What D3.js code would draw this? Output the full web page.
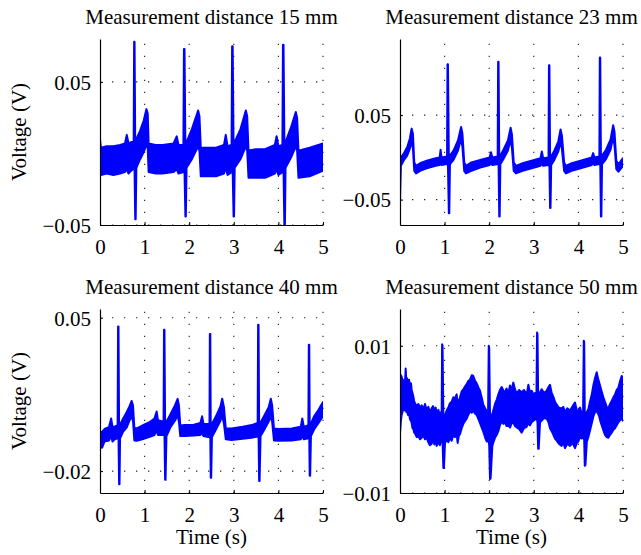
<!DOCTYPE html>
<html>
<head>
<meta charset="utf-8">
<script src="https://cdn.jsdelivr.net/npm/d3@7"></script>
<style>
  html, body { margin: 0; padding: 0; background: #fff; }
  svg { display: block; }
  text { font-family: "Liberation Serif", "Times New Roman", serif; fill: #000; }
</style>
</head>
<body>
<svg id="chart" width="641" height="555"></svg>
<script>
// Time axis ticks shared by all four recordings (seconds)
const timeTicks = [0, 1, 2, 3, 4, 5];

// Each trace row: [time (s), upper edge (V), lower edge (V)] of the noisy recording

// ---- 15 mm
const trace15 = [
  [0.00, 0.010, -0.012], [0.02, 0.004, -0.015], [0.15, 0.005, -0.014], [0.30, 0.005, -0.015],
  [0.45, 0.006, -0.014], [0.56, 0.007, -0.013], [0.60, 0.013, -0.011], [0.64, 0.007, -0.014],
  [0.70, 0.008, -0.012], [0.755, 0.008, -0.011], [0.765, 0.078, -0.011], [0.775, 0.078, -0.012],
  [0.790, 0.006, -0.046], [0.800, 0.006, -0.046], [0.815, 0.010, -0.010], [0.90, 0.016, -0.004],
  [0.98, 0.023, 0.001], [1.04, 0.031, 0.006], [1.07, 0.028, 0.004], [1.09, 0.007, -0.013],
  [1.25, 0.006, -0.014], [1.40, 0.006, -0.014], [1.65, 0.007, -0.013], [1.72, 0.012, -0.011],
  [1.76, 0.006, -0.014], [1.87, 0.006, -0.013], [1.882, 0.073, -0.012], [1.895, 0.073, -0.013],
  [1.915, 0.004, -0.044], [1.925, 0.004, -0.044], [1.94, 0.008, -0.010], [2.06, 0.017, -0.004],
  [2.20, 0.030, 0.005], [2.23, 0.026, 0.002], [2.26, 0.004, -0.016], [2.45, 0.004, -0.016],
  [2.60, 0.004, -0.016], [2.78, 0.006, -0.014], [2.82, 0.013, -0.010], [2.86, 0.005, -0.015],
  [2.95, 0.006, -0.013], [2.962, 0.075, -0.012], [2.975, 0.075, -0.013], [2.995, 0.004, -0.044],
  [3.005, 0.004, -0.044], [3.02, 0.008, -0.010], [3.15, 0.017, -0.004], [3.27, 0.030, 0.005],
  [3.30, 0.026, 0.002], [3.33, 0.002, -0.017], [3.50, 0.003, -0.017], [3.70, 0.003, -0.017],
  [3.92, 0.006, -0.014], [3.96, 0.012, -0.011], [4.00, 0.005, -0.015], [4.09, 0.006, -0.013],
  [4.102, 0.076, -0.012], [4.115, 0.076, -0.013], [4.135, 0.004, -0.053], [4.145, 0.004, -0.053],
  [4.16, 0.008, -0.010], [4.28, 0.018, -0.003], [4.39, 0.029, 0.005], [4.42, 0.025, 0.002],
  [4.45, 0.002, -0.017], [4.70, 0.004, -0.016], [5.00, 0.007, -0.012]
];

// ---- 23 mm
const trace23 = [
  [0.00, -0.046, -0.052], [0.02, 0.000, -0.010], [0.08, 0.004, -0.004], [0.16, 0.012, 0.002],
  [0.22, 0.022, 0.010], [0.26, 0.034, 0.020], [0.29, 0.028, 0.010], [0.32, -0.006, -0.016],
  [0.36, -0.010, -0.019], [0.45, -0.007, -0.016], [0.60, -0.004, -0.013], [0.80, -0.001, -0.010],
  [0.89, 0.000, -0.009], [0.91, 0.009, -0.006], [0.93, 0.000, -0.009], [1.055, 0.001, -0.008],
  [1.065, 0.110, -0.007], [1.075, 0.110, -0.008], [1.095, 0.002, -0.066], [1.105, 0.002, -0.066],
  [1.12, 0.002, -0.008], [1.20, 0.008, -0.003], [1.30, 0.020, 0.008], [1.37, 0.036, 0.022],
  [1.40, 0.028, 0.012], [1.44, -0.006, -0.016], [1.48, -0.010, -0.019], [1.60, -0.006, -0.016],
  [1.80, -0.003, -0.012], [2.01, 0.000, -0.009], [2.04, 0.006, -0.006], [2.07, 0.000, -0.009],
  [2.19, 0.001, -0.008], [2.200, 0.113, -0.007], [2.210, 0.113, -0.008], [2.225, 0.002, -0.070],
  [2.235, 0.002, -0.070], [2.25, 0.002, -0.008], [2.32, 0.009, -0.002], [2.42, 0.020, 0.008],
  [2.48, 0.035, 0.021], [2.51, 0.027, 0.011], [2.55, -0.006, -0.016], [2.60, -0.010, -0.019],
  [2.75, -0.007, -0.016], [2.95, -0.004, -0.013], [3.15, -0.001, -0.010], [3.18, 0.007, -0.007],
  [3.21, -0.001, -0.010], [3.33, 0.000, -0.009], [3.340, 0.109, -0.007], [3.350, 0.109, -0.008],
  [3.365, 0.001, -0.060], [3.375, 0.001, -0.060], [3.39, 0.001, -0.009], [3.46, 0.008, -0.003],
  [3.55, 0.019, 0.007], [3.60, 0.033, 0.019], [3.63, 0.026, 0.010], [3.68, -0.006, -0.016],
  [3.72, -0.010, -0.019], [3.85, -0.007, -0.016], [4.05, -0.004, -0.013], [4.30, 0.000, -0.009],
  [4.33, 0.005, -0.006], [4.36, 0.000, -0.009], [4.47, 0.001, -0.008], [4.480, 0.118, -0.006],
  [4.490, 0.118, -0.008], [4.505, 0.002, -0.070], [4.515, 0.002, -0.070], [4.53, 0.002, -0.008],
  [4.62, 0.009, -0.002], [4.72, 0.021, 0.009], [4.78, 0.038, 0.024], [4.81, 0.030, 0.014],
  [4.85, -0.004, -0.014], [4.90, -0.008, -0.017], [5.00, -0.001, -0.010]
];

// ---- 40 mm
const trace40 = [
  [0.00, -0.0025, -0.0095], [0.05, -0.0020, -0.0092], [0.10, -0.0008, -0.0065], [0.20, 0.0000, -0.0060],
  [0.25, 0.0040, -0.0040], [0.28, 0.0002, -0.0065], [0.33, 0.0003, -0.0055], [0.395, 0.0010, -0.0050],
  [0.405, 0.0460, -0.0040], [0.415, 0.0460, -0.0045], [0.428, 0.0000, -0.0260], [0.438, 0.0000, -0.0260],
  [0.45, 0.0012, -0.0050], [0.52, 0.0040, -0.0020], [0.60, 0.0070, 0.0000], [0.66, 0.0095, 0.0030],
  [0.71, 0.0120, 0.0050], [0.74, 0.0100, 0.0030], [0.77, -0.0002, -0.0060], [0.82, -0.0005, -0.0062],
  [0.95, 0.0008, -0.0055], [1.10, 0.0022, -0.0045], [1.22, 0.0040, -0.0035], [1.27, 0.0072, -0.0015],
  [1.30, 0.0032, -0.0035], [1.425, 0.0025, -0.0035], [1.435, 0.0445, -0.0025], [1.445, 0.0445, -0.0030],
  [1.460, 0.0015, -0.0240], [1.470, 0.0015, -0.0240], [1.49, 0.0025, -0.0040], [1.58, 0.0060, 0.0000],
  [1.68, 0.0100, 0.0030], [1.74, 0.0130, 0.0055], [1.77, 0.0100, 0.0025], [1.80, 0.0008, -0.0040],
  [1.90, 0.0010, -0.0040], [2.10, 0.0012, -0.0038], [2.25, 0.0020, -0.0035], [2.29, 0.0050, -0.0025],
  [2.32, 0.0015, -0.0040], [2.455, 0.0015, -0.0045], [2.463, 0.0426, -0.0040], [2.473, 0.0426, -0.0042],
  [2.483, 0.0005, -0.0230], [2.493, 0.0005, -0.0230], [2.51, 0.0015, -0.0045], [2.60, 0.0050, -0.0010],
  [2.70, 0.0095, 0.0030], [2.74, 0.0130, 0.0055], [2.78, 0.0090, 0.0015], [2.82, -0.0005, -0.0055],
  [2.95, -0.0006, -0.0058], [3.20, 0.0002, -0.0052], [3.40, 0.0010, -0.0048], [3.535, 0.0020, -0.0042],
  [3.545, 0.0468, -0.0030], [3.555, 0.0468, -0.0035], [3.568, 0.0012, -0.0245], [3.578, 0.0012, -0.0245],
  [3.60, 0.0022, -0.0040], [3.70, 0.0060, -0.0005], [3.78, 0.0090, 0.0025], [3.83, 0.0130, 0.0050],
  [3.86, 0.0100, 0.0025], [3.90, -0.0005, -0.0060], [4.00, -0.0008, -0.0062], [4.30, -0.0005, -0.0060],
  [4.50, 0.0002, -0.0055], [4.536, 0.0040, -0.0040], [4.57, 0.0002, -0.0055], [4.672, 0.0010, -0.0050],
  [4.682, 0.0377, -0.0040], [4.692, 0.0377, -0.0045], [4.702, 0.0002, -0.0221], [4.712, 0.0002, -0.0221],
  [4.73, 0.0018, -0.0040], [4.80, 0.0050, -0.0010], [4.90, 0.0080, 0.0020], [5.00, 0.0115, 0.0050]
];

// ---- 50 mm
const trace50 = [
  [0.000, 0.0054, -0.0019], [0.020, 0.0060, -0.0002], [0.037, 0.0058, 0.0006], [0.065, 0.0050, 0.0012],
  [0.097, 0.0054, 0.0015], [0.112, 0.0050, 0.0012], [0.127, 0.0069, 0.0013], [0.142, 0.0052, 0.0010],
  [0.157, 0.0056, 0.0011], [0.180, 0.0050, 0.0006], [0.202, 0.0054, 0.0008], [0.225, 0.0046, 0.0000],
  [0.247, 0.0049, -0.0002], [0.262, 0.0040, -0.0005], [0.280, 0.0036, -0.0012], [0.299, 0.0031, -0.0013],
  [0.318, 0.0025, -0.0018], [0.336, 0.0022, -0.0019], [0.375, 0.0018, -0.0024], [0.411, 0.0021, -0.0023],
  [0.450, 0.0016, -0.0027], [0.486, 0.0019, -0.0025], [0.525, 0.0014, -0.0022], [0.561, 0.0021, -0.0027],
  [0.600, 0.0012, -0.0025], [0.635, 0.0017, -0.0031], [0.670, 0.0010, -0.0035], [0.710, 0.0015, -0.0033],
  [0.740, 0.0018, -0.0028], [0.770, 0.0012, -0.0034], [0.800, 0.0016, -0.0030], [0.822, 0.0008, -0.0036],
  [0.860, 0.0013, -0.0031], [0.897, 0.0005, -0.0035], [0.920, 0.0010, -0.0028], [0.934, 0.0009, -0.0026],
  [0.944, 0.0102, -0.0026], [0.954, 0.0100, -0.0030], [0.972, 0.0006, -0.0066], [0.985, 0.0006, -0.0066],
  [1.009, 0.0006, -0.0032], [1.045, 0.0012, -0.0028], [1.084, 0.0016, -0.0031], [1.120, 0.0022, -0.0025],
  [1.158, 0.0024, -0.0029], [1.195, 0.0030, -0.0021], [1.233, 0.0029, -0.0024], [1.271, 0.0034, -0.0020],
  [1.293, 0.0018, -0.0032], [1.320, 0.0026, -0.0022], [1.345, 0.0030, -0.0020], [1.383, 0.0038, -0.0012],
  [1.420, 0.0041, -0.0006], [1.460, 0.0045, -0.0002], [1.495, 0.0048, 0.0001], [1.530, 0.0052, 0.0006],
  [1.570, 0.0054, 0.0011], [1.610, 0.0060, 0.0009], [1.644, 0.0059, 0.0012], [1.680, 0.0053, 0.0008],
  [1.719, 0.0049, 0.0006], [1.760, 0.0043, 0.0000], [1.794, 0.0039, -0.0005], [1.830, 0.0030, -0.0011],
  [1.869, 0.0020, -0.0017], [1.910, 0.0015, -0.0025], [1.943, 0.0011, -0.0030], [1.975, 0.0010, -0.0030],
  [1.990, 0.0100, -0.0030], [2.000, 0.0098, -0.0035], [2.018, 0.0006, -0.0081], [2.032, 0.0006, -0.0080],
  [2.070, 0.0007, -0.0036], [2.100, 0.0014, -0.0030], [2.130, 0.0021, -0.0025], [2.170, 0.0027, -0.0021],
  [2.205, 0.0034, -0.0016], [2.240, 0.0040, -0.0008], [2.280, 0.0044, -0.0003], [2.320, 0.0039, -0.0006],
  [2.354, 0.0037, -0.0004], [2.390, 0.0042, -0.0009], [2.429, 0.0035, -0.0008], [2.466, 0.0046, -0.0011],
  [2.500, 0.0040, -0.0006], [2.541, 0.0050, -0.0004], [2.578, 0.0041, -0.0009], [2.616, 0.0035, -0.0011],
  [2.670, 0.0040, -0.0013], [2.728, 0.0037, -0.0018], [2.780, 0.0040, -0.0012], [2.840, 0.0034, -0.0010],
  [2.878, 0.0047, -0.0005], [2.915, 0.0036, -0.0008], [2.952, 0.0039, -0.0004], [2.990, 0.0034, -0.0002],
  [3.027, 0.0036, 0.0000], [3.060, 0.0035, 0.0000], [3.073, 0.0118, 0.0000], [3.083, 0.0116, -0.0005],
  [3.097, 0.0033, -0.0040], [3.110, 0.0033, -0.0040], [3.140, 0.0037, -0.0004], [3.176, 0.0041, -0.0002],
  [3.230, 0.0036, 0.0002], [3.288, 0.0039, 0.0001], [3.330, 0.0044, -0.0004], [3.363, 0.0047, -0.0012],
  [3.400, 0.0036, -0.0016], [3.438, 0.0031, -0.0021], [3.475, 0.0024, -0.0026], [3.513, 0.0020, -0.0029],
  [3.560, 0.0016, -0.0033], [3.625, 0.0015, -0.0036], [3.660, 0.0017, -0.0031], [3.700, 0.0010, -0.0039],
  [3.750, 0.0015, -0.0033], [3.812, 0.0012, -0.0036], [3.870, 0.0018, -0.0032], [3.924, 0.0023, -0.0039],
  [3.960, 0.0013, -0.0033], [3.999, 0.0011, -0.0030], [4.036, 0.0016, -0.0024], [4.073, 0.0008, -0.0026],
  [4.105, 0.0009, -0.0025], [4.120, 0.0107, -0.0025], [4.130, 0.0105, -0.0028], [4.143, 0.0008, -0.0063],
  [4.158, 0.0008, -0.0062], [4.190, 0.0010, -0.0030], [4.223, 0.0014, -0.0024], [4.260, 0.0024, -0.0015],
  [4.297, 0.0033, -0.0006], [4.335, 0.0046, 0.0004], [4.372, 0.0056, 0.0010], [4.410, 0.0064, 0.0011],
  [4.440, 0.0056, 0.0008], [4.462, 0.0051, 0.0005], [4.490, 0.0045, -0.0002], [4.522, 0.0038, -0.0008],
  [4.560, 0.0030, -0.0015], [4.596, 0.0024, -0.0021], [4.635, 0.0017, -0.0024], [4.671, 0.0015, -0.0025],
  [4.710, 0.0021, -0.0021], [4.746, 0.0025, -0.0018], [4.785, 0.0030, -0.0014], [4.821, 0.0034, -0.0012],
  [4.860, 0.0040, -0.0008], [4.896, 0.0043, -0.0004], [4.935, 0.0052, -0.0001], [4.970, 0.0059, 0.0001],
  [5.000, 0.0057, -0.0002]
];

// Panel titles, voltage limits and labelled voltage ticks
const titles = ["Measurement distance 15 mm", "Measurement distance 23 mm", "Measurement distance 40 mm", "Measurement distance 50 mm"];
const voltLimits = [[-0.05, 0.08], [-0.08, 0.14], [-0.03, 0.054], [-0.01, 0.015]];
const voltTicks = [[-0.05, 0.05], [-0.05, 0.05], [-0.02, 0.05], [-0.01, 0.01]];
const voltTickLabels = [["\u22120.05", "0.05"], ["\u22120.05", "0.05"], ["\u22120.02", "0.05"], ["\u22120.01", "0.01"]];
const traces = [trace15, trace23, trace40, trace50];

// Axes boxes in page pixels
const boxes = [
  { x0: 100, x1: 323, y0: 39, y1: 225 },
  { x0: 400, x1: 623, y0: 39, y1: 225 },
  { x0: 100, x1: 323, y0: 309, y1: 493 },
  { x0: 400, x1: 623, y0: 309, y1: 493 }
];

const svg = d3.select("#chart");
const blue = "#0000ff";
const fontSize = 21;

boxes.forEach((b, i) => {
  const x = d3.scaleLinear().domain([0, 5]).range([b.x0, b.x1]);
  const y = d3.scaleLinear().domain(voltLimits[i]).range([b.y1, b.y0]);
  const g = svg.append("g");

  // dotted grid, underneath the trace
  const grid = g.append("g")
    .attr("stroke", "#222").attr("stroke-width", 1.1)
    .attr("stroke-dasharray", "1.3,10.7").attr("fill", "none");
  timeTicks.filter(v => v > 0).forEach(v => {
    grid.append("line").attr("x1", x(v)).attr("x2", x(v))
      .attr("y1", b.y1).attr("y2", b.y0);
  });
  voltTicks[i].forEach(v => {
    grid.append("line").attr("x1", b.x0).attr("x2", b.x1)
      .attr("y1", y(v)).attr("y2", y(v));
  });

  // trace, clipped to the axes box
  const clipId = "clip" + i;
  svg.append("clipPath").attr("id", clipId)
    .append("rect").attr("x", b.x0).attr("y", b.y0)
    .attr("width", b.x1 - b.x0).attr("height", b.y1 - b.y0);

  const area = d3.area()
    .x(d => x(d[0])).y0(d => y(d[2])).y1(d => y(d[1]));
  g.append("path")
    .datum(traces[i])
    .attr("clip-path", `url(#${clipId})`)
    .attr("d", area)
    .attr("fill", blue)
    .attr("stroke", blue)
    .attr("stroke-width", 2)
    .attr("stroke-linejoin", "round");

  // axes: left and bottom only, ticks pointing inward
  const xAxis = d3.axisBottom(x).tickValues(timeTicks).tickSizeInner(-3).tickSizeOuter(0)
    .tickFormat(d3.format("d"));
  const xg = g.append("g").attr("transform", `translate(0,${b.y1})`).call(xAxis);
  xg.select(".domain").attr("stroke", "#000").attr("stroke-width", 1.2);
  xg.selectAll(".tick line").attr("stroke", "#000");
  xg.selectAll(".tick text")
    .attr("y", 28.5).attr("dy", null)
    .style("font-family", "'Liberation Serif', serif")
    .style("font-size", fontSize + "px");

  const yAxis = d3.axisLeft(y).tickValues(voltTicks[i]).tickSizeInner(-3).tickSizeOuter(0)
    .tickFormat((d, k) => voltTickLabels[i][k]);
  const yg = g.append("g").attr("transform", `translate(${b.x0},0)`).call(yAxis);
  yg.select(".domain").attr("stroke", "#000").attr("stroke-width", 1.2);
  yg.selectAll(".tick line").attr("stroke", "#000");
  yg.selectAll(".tick text")
    .attr("x", -9).attr("dy", "0.35em")
    .style("font-family", "'Liberation Serif', serif")
    .style("font-size", fontSize + "px");

  // panel title
  g.append("text")
    .attr("x", (b.x0 + b.x1) / 2).attr("y", b.y0 - 15)
    .attr("text-anchor", "middle")
    .style("font-size", fontSize + "px")
    .text(titles[i]);

  // axis titles on the outer panels
  if (i % 2 === 0) {
    g.append("text")
      .attr("transform", `translate(26,${(b.y0 + b.y1) / 2}) rotate(-90)`)
      .attr("text-anchor", "middle")
      .style("font-size", fontSize + "px")
      .text("Voltage (V)");
  }
  if (i >= 2) {
    g.append("text")
      .attr("x", (b.x0 + b.x1) / 2).attr("y", 544)
      .attr("text-anchor", "middle")
      .style("font-size", fontSize + "px")
      .text("Time (s)");
  }
});
</script>
</body>
</html>
